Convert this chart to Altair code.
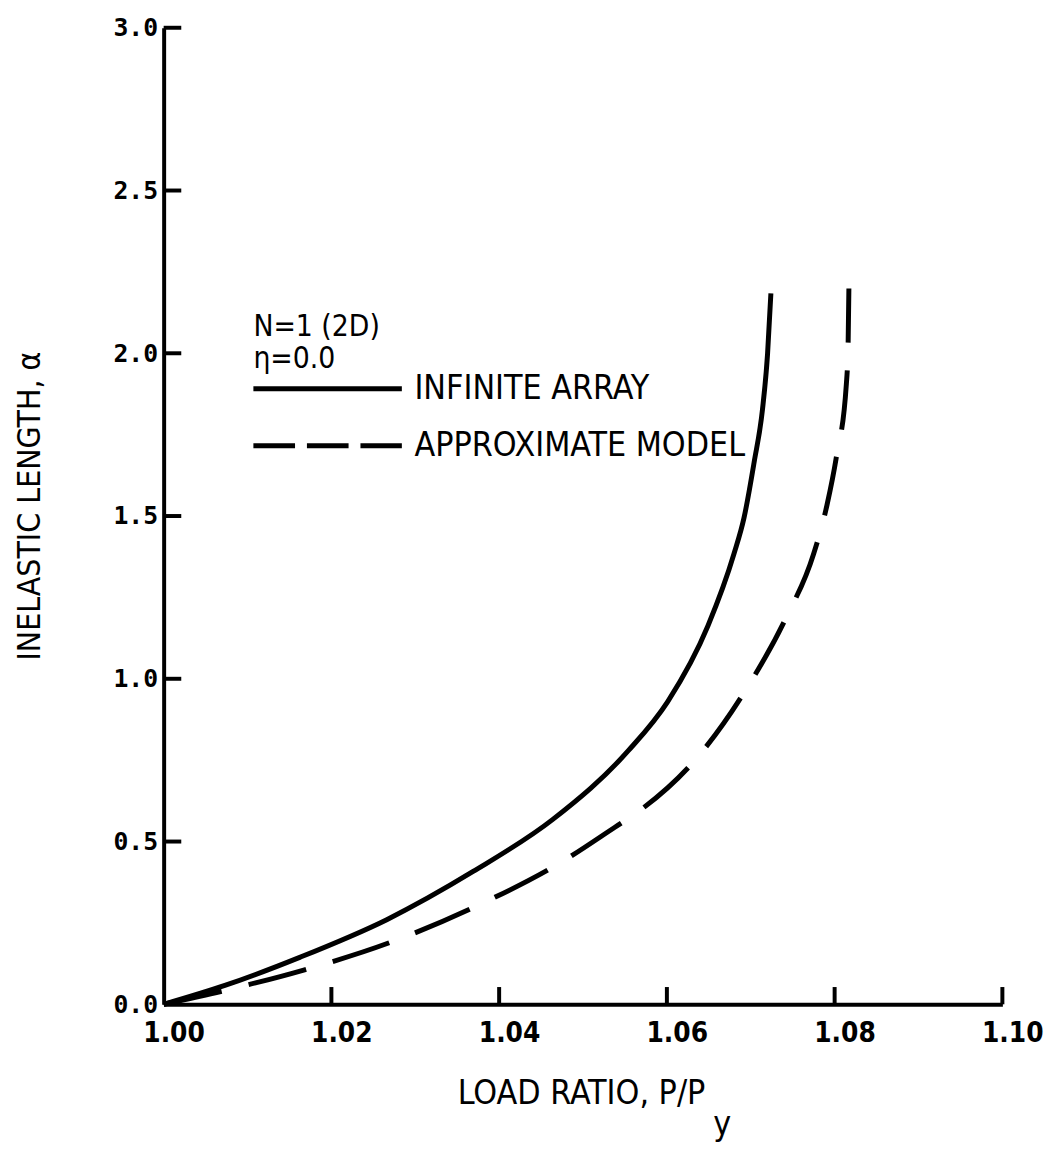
import altair as alt
import pandas as pd

# ---- data ----
solid_x = [1.0000, 1.0073, 1.0163, 1.0266, 1.0369, 1.0464, 1.0554, 1.0601,
           1.0649, 1.0680, 1.0692, 1.0704, 1.0714, 1.0720, 1.0724]
solid_y = [0.000, 0.058, 0.145, 0.260, 0.408, 0.568, 0.779, 0.930,
           1.163, 1.384, 1.495, 1.665, 1.828, 1.997, 2.184]

dashed_x = [1.0000, 1.0077, 1.0168, 1.0270, 1.0373, 1.0473, 1.0538, 1.0566, 1.0641,
            1.0695, 1.0742, 1.0775, 1.0791, 1.0802, 1.0814, 1.0816, 1.0817]
dashed_y = [0.000, 0.045, 0.106, 0.190, 0.302, 0.435, 0.544, 0.592, 0.773,
            0.970, 1.187, 1.384, 1.535, 1.680, 1.906, 2.018, 2.199]

x_ticks = [1.00, 1.02, 1.04, 1.06, 1.08, 1.10]
y_ticks = [0.0, 0.5, 1.0, 1.5, 2.0, 2.5, 3.0]

series_names = ["INFINITE ARRAY", "APPROXIMATE MODEL"]
note_lines = ["N=1 (2D)", "\u03b7=0.0"]

COND = "DejaVu Sans Condensed, DejaVu Sans, sans-serif"
MONO = "DejaVu Sans Mono, Liberation Mono, monospace"

W, H = 846, 985

solid_df = pd.DataFrame({"x": solid_x, "y": solid_y})
dashed_df = pd.DataFrame({"x": dashed_x, "y": dashed_y})

xs = alt.Scale(domain=[1.0, 1.10], nice=False, zero=False)
ys = alt.Scale(domain=[0.0, 3.0], nice=False, zero=True)

xax = alt.Axis(values=x_ticks, format=".2f", grid=False, ticks=False,
               domainColor="black", domainWidth=4, labelFlush=False,
               labelFont=COND, labelFontWeight="bold", labelFontSize=28,
               labelColor="black", labelPadding=16, labelOffset=10,
               title="LOAD RATIO,  P/P", titleFont=COND, titleFontSize=34,
               titleFontWeight="normal", titleColor="black",
               titleX=421, titleY=90, titleAnchor="middle",
               titleAlign="center", titleBaseline="middle")
yax = alt.Axis(values=y_ticks, format=".1f", grid=False, ticks=False,
               domainColor="black", domainWidth=4, labelFlush=False,
               labelFont=MONO, labelFontWeight="bold", labelFontSize=25,
               labelColor="black", labelPadding=6,
               title="INELASTIC LENGTH, \u03b1", titleFont=COND, titleFontSize=32,
               titleFontWeight="normal", titleColor="black",
               titleX=-135, titleY=482, titleAngle=270,
               titleAlign="center", titleBaseline="middle")

base_solid = alt.Chart(solid_df).mark_line(
    color="black", strokeWidth=5, interpolate="monotone"
).encode(
    x=alt.X("x:Q", scale=xs, axis=xax),
    y=alt.Y("y:Q", scale=ys, axis=yax),
)

dashed = alt.Chart(dashed_df).mark_line(
    color="black", strokeWidth=5, interpolate="monotone", strokeDash=[60, 28]
).encode(x=alt.X("x:Q", scale=xs), y=alt.Y("y:Q", scale=ys))

# inward ticks
xt_df = pd.DataFrame({"x": x_ticks[1:], "y": [0.0] * 5, "y2": [0.053] * 5})
xticks = alt.Chart(xt_df).mark_rule(color="black", strokeWidth=4).encode(
    x=alt.X("x:Q", scale=xs), y=alt.Y("y:Q", scale=ys), y2="y2:Q")
yt_df = pd.DataFrame({"y": y_ticks[1:], "x": [1.0] * 6, "x2": [1.0021] * 6})
yticks = alt.Chart(yt_df).mark_rule(color="black", strokeWidth=4).encode(
    y=alt.Y("y:Q", scale=ys), x=alt.X("x:Q", scale=xs), x2="x2:Q")

# legend
leg_solid = pd.DataFrame({"x": [1.0107], "x2": [1.0284], "y": [1.891]})
leg_dash = pd.DataFrame({"x": [1.0107], "x2": [1.0284], "y": [1.716]})
l1 = alt.Chart(leg_solid).mark_rule(color="black", strokeWidth=5).encode(
    x=alt.X("x:Q", scale=xs), x2="x2:Q", y=alt.Y("y:Q", scale=ys))
l2 = alt.Chart(leg_dash).mark_rule(color="black", strokeWidth=5, strokeDash=[42, 12]).encode(
    x=alt.X("x:Q", scale=xs), x2="x2:Q", y=alt.Y("y:Q", scale=ys))

leg_text = pd.DataFrame({
    "x": [1.0299, 1.0299],
    "y": [1.891, 1.716],
    "t": series_names,
})
ltext = alt.Chart(leg_text).mark_text(
    align="left", baseline="middle", font=COND, fontSize=34, color="black"
).encode(x=alt.X("x:Q", scale=xs), y=alt.Y("y:Q", scale=ys), text="t:N")

note_df = pd.DataFrame({"x": [1.0107, 1.0107], "y": [2.082, 1.983], "t": note_lines})
ntext = alt.Chart(note_df).mark_text(
    align="left", baseline="middle", font=COND, fontSize=30, color="black"
).encode(x=alt.X("x:Q", scale=xs), y=alt.Y("y:Q", scale=ys), text="t:N")

sub_df = pd.DataFrame({"x": [1.0666], "y": [-0.372], "t": ["y"]})
sub = alt.Chart(sub_df).mark_text(
    align="center", baseline="middle", font=COND, fontSize=34, color="black"
).encode(x=alt.X("x:Q", scale=xs), y=alt.Y("y:Q", scale=ys), text="t:N")

chart = alt.layer(base_solid, dashed, xticks, yticks, l1, l2, ltext, ntext, sub).properties(
    width=W, height=H, background="white",
    autosize=alt.AutoSizeParams(type="none"),
    padding={"left": 157, "top": 15, "right": 44, "bottom": 138},
).configure_view(stroke=None, strokeWidth=0)

chart.save("out.html", embed_options={"renderer": "svg", "actions": False})
